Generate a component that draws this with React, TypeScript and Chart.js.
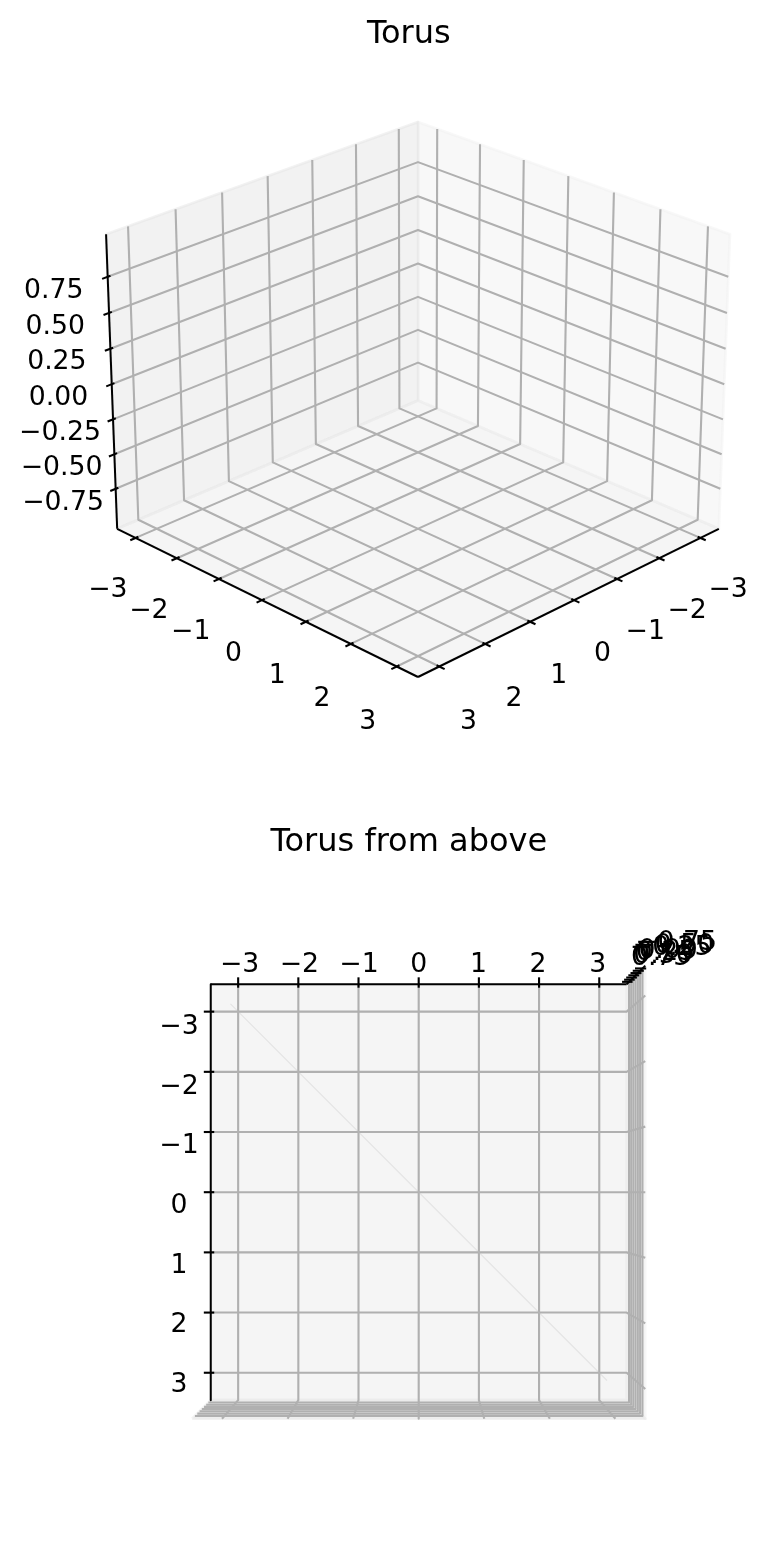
import React, { useEffect, useRef } from 'react';
import { Chart, registerables } from 'chart.js';

Chart.register(...registerables);

const W = 766;
const H = 1556;

// ---------- data ----------
const xTicks = [-3, -2, -1, 0, 1, 2, 3];
const yTicks = [-3, -2, -1, 0, 1, 2, 3];
const zTicks = [-0.75, -0.5, -0.25, 0, 0.25, 0.5, 0.75];
const xTickLabels = ['−3', '−2', '−1', '0', '1', '2', '3'];
const yTickLabels = ['−3', '−2', '−1', '0', '1', '2', '3'];
const zTickLabels = ['−0.75', '−0.50', '−0.25', '0.00', '0.25', '0.50', '0.75'];
const xLimits = [-3.317, 3.317];
const yLimits = [-3.317, 3.317];
const zLimits = [-1, 1];
// faint trace visible in the view from above
const traceX = [-3, 3];
const traceY = [-3, 3];
const traceZ = [0, 0];
const chartTitles = ['Torus', 'Torus from above'];

// ---------- styles / layout ----------
const FONT = '"DejaVu Sans", "Liberation Sans", sans-serif';
const TICK_FS = 26.7;
const TITLE_FS = 32;
const GRID_COLOR = '#b0b0b0';
const PANE_COLORS = ['rgba(242,242,242,0.5)', 'rgba(230,230,230,0.5)', 'rgba(236,236,236,0.5)'];

type View = {
  title: string;
  elev: number;
  azim: number;
  scale: number;
  cx: number;
  cy: number;
  titleX: number;
  titleY: number;
  highs: boolean[];
  zAxisAt: number[];
  labelOff: { x: number[]; y: number[]; z: number[] };
  showTrace: boolean;
};

const VIEWS: View[] = [
  {
    title: chartTitles[0],
    elev: 25,
    azim: 45,
    scale: 3790,
    cx: 418,
    cy: 384.2,
    titleX: 408.8,
    titleY: 43.3,
    highs: [false, false, false],
    zAxisAt: [1, 0],
    labelOff: { x: [0, 0.09, -0.128, 0], y: [0.09, 0, -0.128, 0], z: [0.087, -0.087, 0, 11] },
    showTrace: false,
  },
  {
    title: chartTitles[1],
    elev: -90,
    azim: -90,
    scale: 3795,
    cx: 418.7,
    cy: 1192.2,
    titleX: 408.8,
    titleY: 851,
    highs: [true, true, true],
    zAxisAt: [1, 0],
    labelOff: { x: [0, -0.057, 0.1, 0], y: [-0.081, 0, 0.1, 11], z: [0.075, -0.063, 0, 0] },
    showTrace: true,
  },
];

const ASPECT = (() => {
  const a = [4, 4, 3];
  const n = Math.hypot(a[0], a[1], a[2]);
  return a.map((v) => (v * 1.8294640721620434) / n);
})();

const dot = (a: number[], b: number[]) => a[0] * b[0] + a[1] * b[1] + a[2] * b[2];
const cross = (a: number[], b: number[]) => [
  a[1] * b[2] - a[2] * b[1],
  a[2] * b[0] - a[0] * b[2],
  a[0] * b[1] - a[1] * b[0],
];
const norm = (a: number[]) => {
  const n = Math.hypot(a[0], a[1], a[2]);
  return a.map((v) => v / n);
};

function boxOf(lim: number[]) {
  const d = (lim[1] - lim[0]) / 48;
  return [lim[0] - d, lim[1] + d];
}

function makeProjector(v: View, box: number[][]) {
  const e = (v.elev * Math.PI) / 180;
  const a = (v.azim * Math.PI) / 180;
  const ps = [Math.cos(e) * Math.cos(a), Math.cos(e) * Math.sin(a), Math.sin(e)];
  const R = ASPECT.map((r) => r / 2);
  const dist = 10;
  const eye = R.map((r, i) => r + dist * ps[i]);
  const w = norm(ps);
  const V = [0, 0, Math.abs(e) > Math.PI / 2 ? -1 : 1];
  const u = norm(cross(V, w));
  const vv = cross(w, u);
  return (x: number, y: number, z: number) => {
    const p = [
      ((x - box[0][0]) / (box[0][1] - box[0][0])) * ASPECT[0],
      ((y - box[1][0]) / (box[1][1] - box[1][0])) * ASPECT[1],
      ((z - box[2][0]) / (box[2][1] - box[2][0])) * ASPECT[2],
    ];
    const d = [p[0] - eye[0], p[1] - eye[1], p[2] - eye[2]];
    const depth = -dot(w, d);
    return { x: v.cx + (v.scale * dot(u, d)) / depth, y: v.cy - (v.scale * dot(vv, d)) / depth };
  };
}

type Txt = { text: string; x: number; y: number; font: string };

function build(view: View, datasets: any[], texts: Txt[]) {
  const box = [boxOf(xLimits), boxOf(yLimits), boxOf(zLimits)];
  const range = box.map((b) => b[1] - b[0]);
  const proj = makeProjector(view, box);
  const lo = (i: number) => box[i][0];
  const hi = (i: number) => box[i][1];
  const P = (i: number) => (view.highs[i] ? hi(i) : lo(i));
  const O = (i: number) => (view.highs[i] ? lo(i) : hi(i));

  const line = (pts: number[][], color: string, width: number, order: number, fillColor?: string) => {
    datasets.push({
      data: pts.map((p) => proj(p[0], p[1], p[2])),
      showLine: true,
      pointRadius: 0,
      pointHoverRadius: 0,
      borderColor: color,
      borderWidth: width,
      backgroundColor: fillColor || color,
      fill: fillColor ? 'shape' : false,
      tension: 0,
      borderJoinStyle: 'round',
      borderCapStyle: 'butt',
      order,
    });
  };

  // panes
  for (let i = 0; i < 3; i++) {
    const c = P(i);
    let pts: number[][];
    if (i === 0) pts = [[c, lo(1), lo(2)], [c, hi(1), lo(2)], [c, hi(1), hi(2)], [c, lo(1), hi(2)], [c, lo(1), lo(2)]];
    else if (i === 1) pts = [[lo(0), c, lo(2)], [hi(0), c, lo(2)], [hi(0), c, hi(2)], [lo(0), c, hi(2)], [lo(0), c, lo(2)]];
    else pts = [[lo(0), lo(1), c], [hi(0), lo(1), c], [hi(0), hi(1), c], [lo(0), hi(1), c], [lo(0), lo(1), c]];
    line(pts, PANE_COLORS[i], 2.67, 50 - i, PANE_COLORS[i]);
  }

  // grid
  xTicks.forEach((t) => line([[t, O(1), P(2)], [t, P(1), P(2)], [t, P(1), O(2)]], GRID_COLOR, 2.1, 30));
  yTicks.forEach((t) => line([[O(0), t, P(2)], [P(0), t, P(2)], [P(0), t, O(2)]], GRID_COLOR, 2.1, 30));
  zTicks.forEach((t) => line([[O(0), P(1), t], [P(0), P(1), t], [P(0), O(1), t]], GRID_COLOR, 2.1, 30));

  // axis lines
  const zx = view.zAxisAt[0] ? hi(0) : lo(0);
  const zy = view.zAxisAt[1] ? hi(1) : lo(1);
  line([[lo(0), O(1), P(2)], [hi(0), O(1), P(2)]], '#000', 2, 10);
  line([[O(0), lo(1), P(2)], [O(0), hi(1), P(2)]], '#000', 2, 10);
  line([[zx, zy, lo(2)], [zx, zy, hi(2)]], '#000', 2, 10);

  // ticks
  const delta = range.map((r) => r / 12);
  const sgn = (i: number) => (view.highs[i] ? 1 : -1);
  const tick = (base: number[], dir: number) => {
    const a = base.slice();
    const b = base.slice();
    a[dir] += 0.1 * sgn(dir) * delta[dir];
    b[dir] -= 0.2 * sgn(dir) * delta[dir];
    line([a, b], '#000', 2.1, 9);
  };
  xTicks.forEach((t) => tick([t, O(1), P(2)], 1));
  yTicks.forEach((t) => tick([O(0), t, P(2)], 0));
  zTicks.forEach((t) => tick([zx, zy, t], 0));

  // trace
  if (view.showTrace) {
    line(traceX.map((x, i) => [x, traceY[i], traceZ[i]]), 'rgba(190,190,190,0.3)', 1.2, 5);
  }

  // tick labels
  const tickFont = `${TICK_FS}px ${FONT}`;
  const label = (base: number[], off: number[], text: string) => {
    const s = proj(base[0] + off[0] * range[0], base[1] + off[1] * range[1], base[2] + off[2] * range[2]);
    texts.push({ text, x: s.x, y: s.y + off[3] + 0.364 * TICK_FS, font: tickFont });
  };
  xTicks.forEach((t, i) => label([t, O(1), P(2)], view.labelOff.x, xTickLabels[i]));
  yTicks.forEach((t, i) => label([O(0), t, P(2)], view.labelOff.y, yTickLabels[i]));
  zTicks.forEach((t, i) => label([zx, zy, t], view.labelOff.z, zTickLabels[i]));

  texts.push({ text: view.title, x: view.titleX, y: view.titleY, font: `${TITLE_FS}px ${FONT}` });
}

export default function App() {
  const ref = useRef<HTMLCanvasElement>(null);

  useEffect(() => {
    document.body.style.margin = '0';
    const canvas = ref.current;
    if (!canvas) return;
    const datasets: any[] = [];
    const texts: Txt[] = [];
    VIEWS.forEach((v) => build(v, datasets, texts));

    const textPlugin = {
      id: 'axisTexts',
      afterDatasetsDraw(chart: any) {
        const ctx = chart.ctx as CanvasRenderingContext2D;
        ctx.save();
        ctx.fillStyle = '#000';
        ctx.textAlign = 'center';
        ctx.textBaseline = 'alphabetic';
        texts.forEach((t) => {
          ctx.font = t.font;
          ctx.fillText(t.text, t.x, t.y);
        });
        ctx.restore();
      },
    };

    const chart = new Chart(canvas, {
      type: 'scatter',
      data: { datasets },
      options: {
        responsive: false,
        animation: false,
        events: [],
        layout: { padding: 0 },
        scales: {
          x: { type: 'linear', min: 0, max: W, display: false },
          y: { type: 'linear', min: 0, max: H, reverse: true, display: false },
        },
        plugins: {
          legend: { display: false },
          tooltip: { enabled: false },
          title: { display: false },
        },
      },
      plugins: [textPlugin],
    } as any);

    return () => chart.destroy();
  }, []);

  return (
    <div style={{ width: W, height: H, background: '#fff' }}>
      <canvas ref={ref} width={W} height={H} style={{ display: 'block' }} />
    </div>
  );
}
